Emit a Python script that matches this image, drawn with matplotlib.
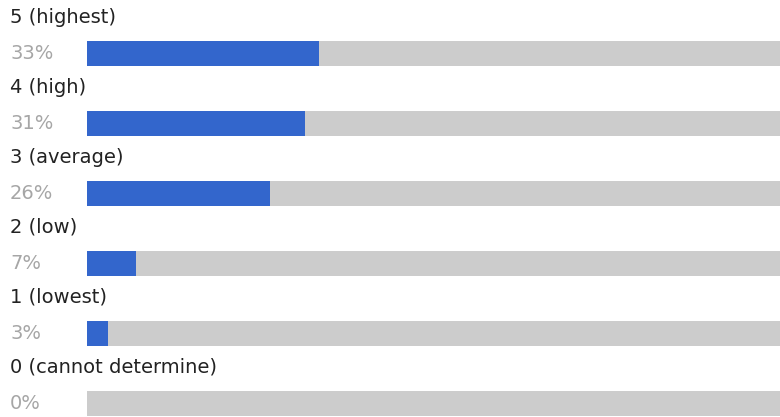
import matplotlib.pyplot as plt
from matplotlib.transforms import blended_transform_factory

labels = ["5 (highest)", "4 (high)", "3 (average)", "2 (low)", "1 (lowest)", "0 (cannot determine)"]
percents = [33, 31, 26, 7, 3, 0]

fig = plt.figure(figsize=(7.8, 4.17), dpi=100)
ax = fig.add_axes([87 / 780, 0, 693 / 780, 1])

pos = list(range(len(labels)))
ax.barh(pos, [100] * len(pos), height=0.36, color="#cccccc")
ax.barh(pos, percents, height=0.36, color="#3366cc")

ax.set_xlim(0, 98.6)
ax.set_ylim(5.193, -0.764)
ax.axis("off")

# labels sit at the left edge of the figure, rows follow the bars
trans = blended_transform_factory(fig.transFigure, ax.transData)
for i, (lab, p) in enumerate(zip(labels, percents)):
    ax.text(10 / 780, i - 0.52, lab, transform=trans,
            fontsize=14, color="#222222", va="center", ha="left")
    ax.text(10 / 780, i, f"{p}%", transform=trans,
            fontsize=14, color="#a6a6a6", va="center", ha="left")

fig.savefig("out.png", dpi=100)
